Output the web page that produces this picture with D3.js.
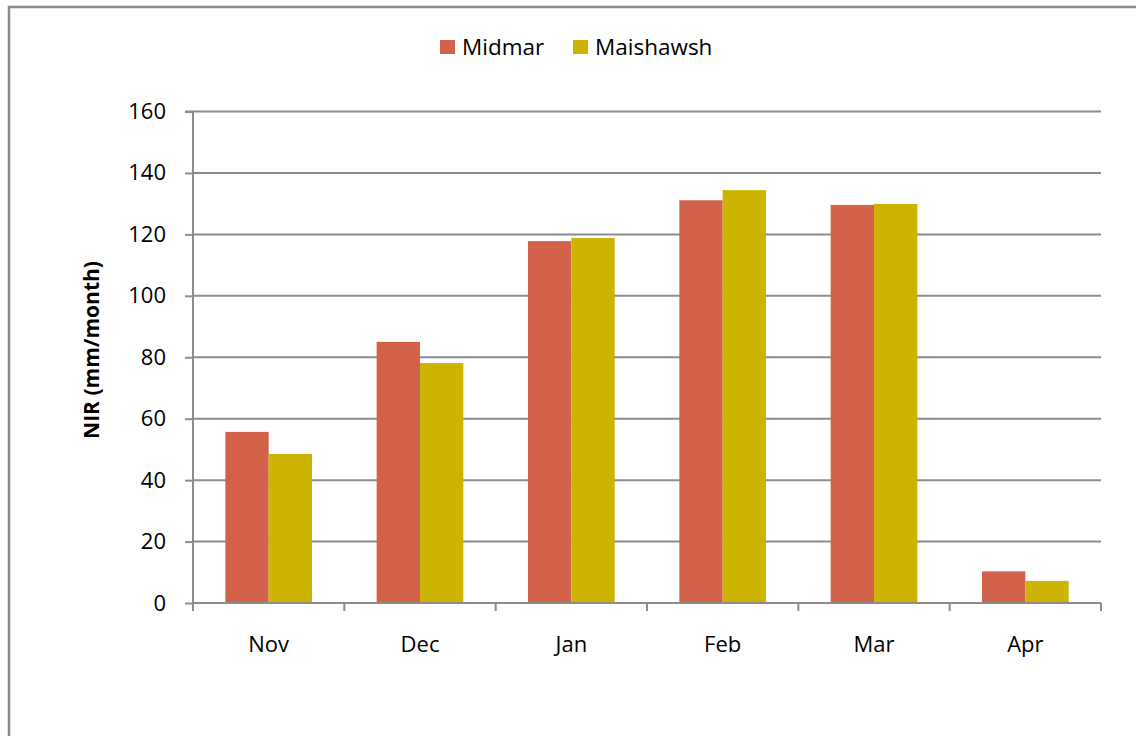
<!DOCTYPE html>
<html><head><meta charset="utf-8">
<script src="https://cdn.jsdelivr.net/npm/d3@7"></script>
<style>body{margin:0;background:#fff}svg{display:block}</style>
</head><body>
<svg id="c" width="1136" height="736"></svg>
<script>
const categories = ["Nov","Dec","Jan","Feb","Mar","Apr"];
const seriesNames = ["Midmar","Maishawsh"];
const midmar = [55.7, 85.0, 117.8, 131.1, 129.6, 10.3];
const maishawsh = [48.5, 78.1, 118.8, 134.4, 129.9, 7.2];
const yTicks = [0,20,40,60,80,100,120,140,160];
const colors = ["#D2634A","#CDB400"];
const yTitle = "NIR (mm/month)";

const svg = d3.select("#c");
const font = "'Open Sans', sans-serif";
const grid = "#8c8c8c";
const L = 193, R = 1101, T = 111.5, B = 603;

svg.append("rect").attr("x",9).attr("y",7).attr("width",1140).attr("height",740)
  .attr("fill","none").attr("stroke","#8a8a8a").attr("stroke-width",2.5);

const x = d3.scaleBand().domain(categories).range([L,R]).paddingInner(0).paddingOuter(0);
const inner = d3.scaleBand().domain(seriesNames).range([0,x.bandwidth()]).paddingOuter(0.746).paddingInner(0);
const y = d3.scaleLinear().domain([0,160]).range([B,T]);

// gridlines
svg.append("g").selectAll("line").data(yTicks.filter(d=>d>0)).join("line")
  .attr("x1",L).attr("x2",R).attr("y1",d=>y(d)).attr("y2",d=>y(d))
  .attr("stroke",grid).attr("stroke-width",2);

// bars
const data = [midmar, maishawsh];
const g = svg.append("g");
seriesNames.forEach((s,si)=>{
  g.selectAll(null).data(categories).join("rect")
    .attr("x",c=>x(c)+inner(s)).attr("width",inner.bandwidth())
    .attr("y",(c,i)=>y(data[si][i])).attr("height",(c,i)=>B-y(data[si][i]))
    .attr("fill",colors[si]);
});

// y axis
const ya = svg.append("g").attr("transform",`translate(${L},0)`)
  .call(d3.axisLeft(y).tickValues(yTicks).tickSize(8).tickPadding(19).tickFormat(d3.format("d")));
ya.select(".domain").attr("stroke",grid).attr("stroke-width",2).attr("d",`M-8,${T}H0V${B}`);
ya.selectAll(".tick line").attr("stroke",grid).attr("stroke-width",2);
ya.selectAll("text").attr("font-family",font).attr("font-size",22).attr("fill","#000");

// x axis
const xa = svg.append("g").attr("transform",`translate(0,${B})`)
  .call(d3.axisBottom(x).tickSize(0).tickPadding(33));
xa.select(".domain").attr("stroke",grid).attr("stroke-width",2).attr("d",`M${L},0H${R}`);
xa.selectAll("text").attr("font-family",font).attr("font-size",22).attr("fill","#000");
svg.append("g").selectAll("line").data(d3.range(categories.length+1)).join("line")
  .attr("x1",i=>L+i*x.step()).attr("x2",i=>L+i*x.step()).attr("y1",B).attr("y2",B+8)
  .attr("stroke",grid).attr("stroke-width",2);

// y title
svg.append("text").attr("transform","translate(99,350) rotate(-90)")
  .attr("text-anchor","middle").attr("font-family",font).attr("font-weight","bold")
  .attr("font-size",21).attr("fill","#000").text(yTitle);

// legend
const lx = [440, 573];
seriesNames.forEach((s,i)=>{
  svg.append("rect").attr("x",lx[i]).attr("y",40).attr("width",15).attr("height",14).attr("fill",colors[i]);
  svg.append("text").attr("x",lx[i]+22).attr("y",55).attr("font-family",font).attr("font-size",22.5)
    .attr("fill","#000").text(s);
});
</script>
</body></html>
